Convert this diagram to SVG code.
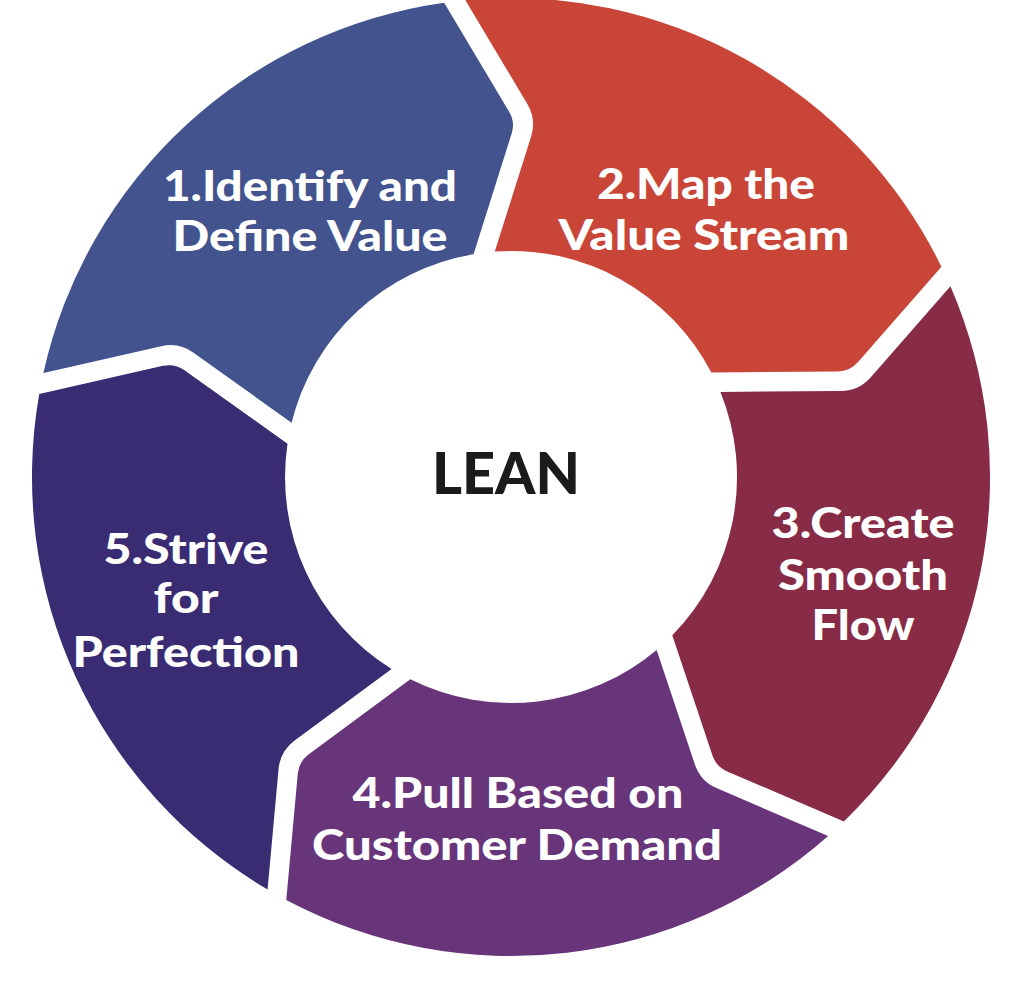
<svg xmlns="http://www.w3.org/2000/svg" width="1024" height="982" viewBox="0 0 1024 982">
<style>
.lbl{font-family:Lato,"Open Sans","Liberation Sans",sans-serif;font-weight:900;font-size:42px;fill:#ffffff;text-anchor:middle}
.core{font-family:Lato,"Open Sans","Liberation Sans",sans-serif;font-weight:900;font-size:57px;fill:#1b1b1b;text-anchor:middle}
</style>
<rect width="1024" height="982" fill="#ffffff"/>
<g id="step1">
<path fill="#42538d" d="M 43.40 372.99 A 479 479 0 0 1 444.16 2.68 L 509.15 111.69 Q 515.30 121.99 511.68 133.43 L 473.55 254.16 A 226 226 0 0 0 291.56 422.74 L 193.50 352.69 Q 178.85 342.22 161.30 346.21 Z"/>
<text class="lbl" x="310" y="201" textLength="294" lengthAdjust="spacingAndGlyphs">1.Identify and</text>
<text class="lbl" x="310" y="251" textLength="275" lengthAdjust="spacingAndGlyphs">Define Value</text>
</g>
<g id="step2">
<path fill="#c84537" d="M 465.41 0.14 A 479 479 0 0 1 941.46 266.86 L 857.85 362.36 Q 849.96 371.38 837.97 371.49 L 711.36 372.53 A 226 226 0 0 0 494.79 251.53 L 531.12 136.62 Q 536.54 119.45 527.33 104.0 Z"/>
<text class="lbl" x="706" y="199" textLength="218" lengthAdjust="spacingAndGlyphs">2.Map the</text>
<text class="lbl" x="704" y="250" textLength="291" lengthAdjust="spacingAndGlyphs">Value Stream</text>
</g>
<g id="step3">
<path fill="#882b46" d="M 950.44 286.29 A 479 479 0 0 1 843.86 821.45 L 727.22 771.45 Q 716.19 766.73 712.39 755.35 L 672.27 635.26 A 226 226 0 0 0 720.43 391.91 L 840.93 390.95 Q 858.94 390.81 870.79 377.27 Z"/>
<text class="lbl" x="863" y="538" textLength="183" lengthAdjust="spacingAndGlyphs">3.Create</text>
<text class="lbl" x="863" y="590" textLength="170" lengthAdjust="spacingAndGlyphs">Smooth</text>
<text class="lbl" x="863" y="640" textLength="103" lengthAdjust="spacingAndGlyphs">Flow</text>
</g>
<g id="step4">
<path fill="#68357a" d="M 828.16 835.99 A 479 479 0 0 1 286.26 900.02 L 297.77 773.63 Q 298.85 761.68 308.51 754.55 L 410.32 679.29 A 226 226 0 0 0 656.64 649.88 L 694.79 764.2 Q 700.49 781.27 717.03 788.36 Z"/>
<text class="lbl" x="518" y="808" textLength="331" lengthAdjust="spacingAndGlyphs">4.Pull Based on</text>
<text class="lbl" x="517" y="860" textLength="410" lengthAdjust="spacingAndGlyphs">Customer Demand</text>
</g>
<g id="step5">
<path fill="#392c72" d="M 267.58 889.58 A 479 479 0 0 1 39.24 393.99 L 163.0 365.87 Q 174.69 363.21 184.45 370.18 L 287.50 443.75 A 226 226 0 0 0 391.59 668.94 L 294.65 740.54 Q 280.17 751.24 278.54 769.16 Z"/>
<text class="lbl" x="186" y="564" textLength="165" lengthAdjust="spacingAndGlyphs">5.Strive</text>
<text class="lbl" x="186" y="613" textLength="65" lengthAdjust="spacingAndGlyphs">for</text>
<text class="lbl" x="186" y="667" textLength="227" lengthAdjust="spacingAndGlyphs">Perfection</text>
</g>
<g id="center">
<circle cx="511" cy="477" r="218" fill="#ffffff"/>
<text class="core" x="506" y="494" textLength="148" lengthAdjust="spacingAndGlyphs">LEAN</text>
</g>
<g id="connectors"/>
</svg>
